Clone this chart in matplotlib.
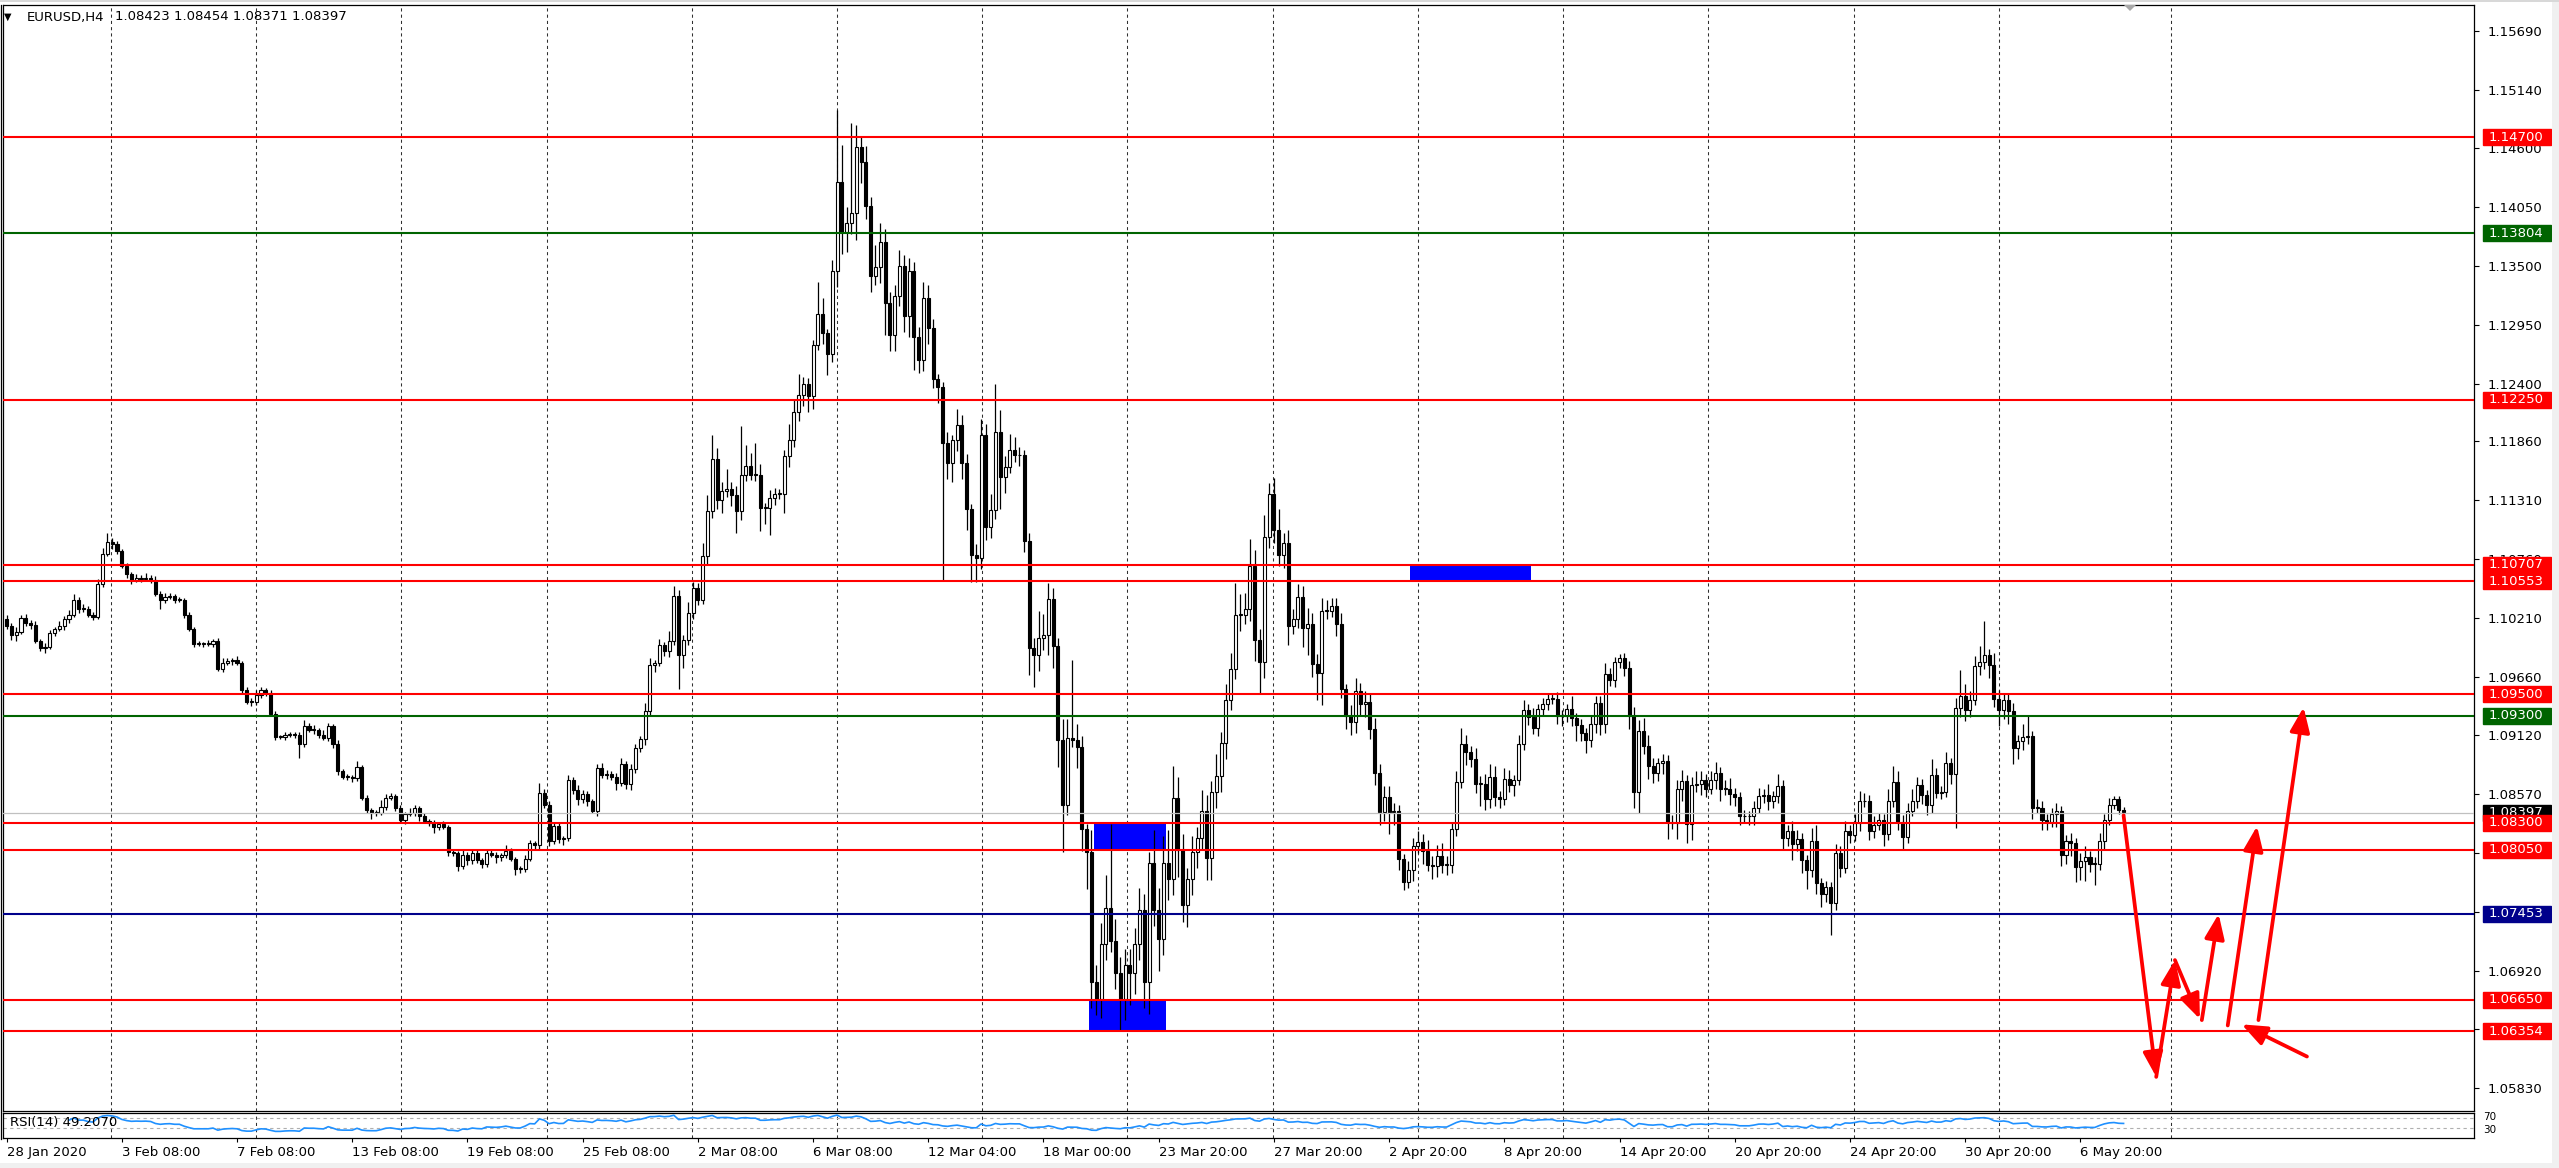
import numpy as np
import pandas as pd
import matplotlib
matplotlib.use("Agg")
import matplotlib.pyplot as plt
from matplotlib.patches import Rectangle, Polygon

W, H = 2559, 1168

# EURUSD H4 candles, prices in units of 0.0001 (open = previous close)
first_open = 11020
closes = [
    11014, 11005, 11008, 11021, 11017, 11015, 11000, 10993, 10994, 11007,
    11011, 11014, 11020, 11024, 11038, 11030, 11030, 11024, 11022, 11053,
    11081, 11092, 11090, 11084, 11070, 11062, 11057, 11059, 11058, 11059,
    11057, 11044, 11038, 11041, 11042, 11038, 11038, 11024, 11011, 10997,
    10997, 10997, 10997, 11000, 10974, 10979, 10981, 10982, 10979, 10954,
    10943, 10943, 10949, 10954, 10951, 10932, 10910, 10910, 10912, 10913,
    10912, 10904, 10920, 10917, 10917, 10912, 10909, 10920, 10904, 10878,
    10873, 10873, 10872, 10882, 10853, 10842, 10839, 10839, 10845, 10853,
    10855, 10844, 10833, 10838, 10839, 10844, 10836, 10832, 10830, 10826,
    10829, 10826, 10803, 10802, 10790, 10800, 10795, 10802, 10795, 10792,
    10802, 10800, 10798, 10800, 10804, 10796, 10787, 10787, 10796, 10811,
    10809, 10858, 10847, 10813, 10827, 10815, 10816, 10870, 10861, 10852,
    10857, 10850, 10841, 10881, 10875, 10876, 10873, 10867, 10885, 10866,
    10880, 10900, 10908, 10934, 10977, 10979, 10996, 10990, 11000, 11042,
    10987, 11001, 11026, 11049, 11038, 11079, 11121, 11170, 11131, 11140,
    11142, 11136, 11121, 11155, 11163, 11155, 11155, 11124, 11124, 11133,
    11137, 11137, 11172, 11187, 11213, 11229, 11240, 11228, 11276, 11305,
    11287, 11268, 11345, 11428, 11381, 11390, 11399, 11461, 11447, 11406,
    11340, 11349, 11372, 11315, 11285, 11322, 11350, 11303, 11345, 11283,
    11262, 11320, 11292, 11244, 11237, 11185, 11166, 11187, 11201, 11166,
    11123, 11080, 11077, 11192, 11106, 11122, 11195, 11153, 11162, 11178,
    11173, 11173, 11093, 10993, 10987, 11003, 11005, 11039, 10995, 10907,
    10847, 10909, 10907, 10901, 10824, 10803, 10682, 10666, 10717, 10751,
    10720, 10690, 10666, 10697, 10690, 10717, 10749, 10682, 10793, 10749,
    10722, 10793, 10778, 10853, 10805, 10753, 10778, 10803, 10816, 10841,
    10797, 10859, 10874, 10905, 10945, 10974, 11024, 11024, 11030, 11070,
    11001, 10980, 11097, 11137, 11103, 11080, 11091, 11014, 11020, 11041,
    11012, 11016, 10978, 10970, 11028, 11028, 11032, 11016, 10955, 10930,
    10924, 10953, 10941, 10943, 10918, 10877, 10840, 10854, 10840, 10841,
    10796, 10775, 10786, 10808, 10812, 10804, 10791, 10790, 10799, 10791,
    10791, 10824, 10868, 10904, 10896, 10890, 10866, 10866, 10852, 10873,
    10854, 10852, 10871, 10865, 10870, 10904, 10935, 10929, 10919, 10936,
    10941, 10946, 10946, 10930, 10930, 10936, 10928, 10921, 10914, 10907,
    10922, 10942, 10922, 10969, 10963, 10980, 10984, 10975, 10930, 10859,
    10916, 10902, 10883, 10877, 10886, 10888, 10831, 10830, 10862, 10869,
    10829, 10865, 10866, 10870, 10862, 10870, 10877, 10862, 10862, 10857,
    10854, 10836, 10836, 10836, 10844, 10855, 10856, 10850, 10855, 10864,
    10816, 10822, 10810, 10815, 10795, 10786, 10813, 10774, 10764, 10770,
    10755, 10802, 10788, 10822, 10819, 10830, 10850, 10850, 10822, 10828,
    10833, 10820, 10850, 10868, 10831, 10817, 10841, 10850, 10865, 10856,
    10847, 10875, 10858, 10859, 10886, 10876, 10937, 10948, 10935, 10945,
    10976, 10980, 10987, 10977, 10946, 10935, 10945, 10934, 10900, 10906,
    10910, 10911, 10844, 10844, 10833, 10831, 10838, 10841, 10800, 10813,
    10811, 10789, 10794, 10798, 10792, 10792, 10813, 10833, 10847, 10852,
    10842, 10840,
]
# wick lengths above / below the body, same units
upper_wick = [
    4, 3, 5, 3, 4, 2, 3, 2, 4, 3,   2, 4, 3, 5, 6, 3, 4, 2, 3, 5,
    6, 9, 4, 3, 2, 3, 2, 3, 2, 4,   2, 3, 2, 4, 3, 2, 3, 2, 3, 2,
    3, 2, 4, 2, 3, 5, 3, 2, 4, 2,   3, 4, 5, 3, 2, 3, 2, 2, 3, 2,
    2, 3, 6, 3, 4, 2, 5, 3, 2, 3,   2, 3, 2, 6, 2, 3, 2, 3, 6, 4,
    3, 2, 3, 2, 5, 3, 2, 3, 2, 3,   2, 3, 2, 3, 2, 5, 3, 4, 3, 2,
    3, 4, 3, 2, 5, 3, 2, 3, 4, 3,   2, 9, 4, 3, 4, 3, 2, 5, 3, 4,
    4, 3, 2, 4, 5, 3, 2, 4, 6, 3,   5, 4, 3, 8, 7, 3, 6, 3, 9, 9,
    5, 4, 10, 6, 5, 12, 15, 22, 10, 8,   18, 6, 8, 45, 20, 12, 30, 10, 5, 8,
    6, 5, 6, 15, 12, 20, 6, 5, 5, 30,   15, 4, 10, 67, 35, 15, 84, 20, 10, 15,
    8, 20, 18, 12, 10, 10, 15, 10, 12, 8,   10, 15, 12, 8, 5, 4, 10, 5, 15, 10,
    8, 5, 10, 15, 10, 15, 45, 20, 10, 15,   12, 8, 5, 8, 10, 25, 20, 15, 10, 8,
    20, 18, 73, 15, 10, 5, 20, 15, 20, 30,   78, 20, 15, 15, 15, 15, 20, 15, 10, 30,
    20, 25, 30, 30, 20, 15, 10, 15, 10, 20,   15, 10, 20, 10, 15, 15, 30, 20, 15, 25,
    15, 10, 20, 10, 15, 20, 10, 12, 10, 12,   10, 15, 10, 10, 12, 10, 8, 8, 10, 5,
    10, 12, 8, 10, 8, 10, 8, 10, 10, 8,   6, 5, 8, 8, 10, 8, 10, 8, 10, 12,
    8, 6, 10, 15, 8, 6, 10, 8, 10, 12,   10, 6, 10, 8, 5, 8, 10, 6, 8, 5,
    6, 5, 4, 6, 5, 5, 12, 5, 6, 5,   8, 6, 6, 10, 6, 5, 4, 5, 6, 8,
    10, 12, 10, 8, 5, 6, 5, 6, 8, 10,   6, 8, 12, 8, 6, 8, 10, 5, 8, 10,
    6, 5, 6, 5, 6, 8, 6, 10, 5, 12,   6, 6, 10, 8, 6, 5, 12, 15, 5, 6,
    5, 8, 6, 10, 6, 8, 10, 8, 6, 8,   6, 5, 12, 15, 10, 6, 8, 12, 8, 6,
    5, 15, 6, 5, 10, 5, 10, 25, 12, 8,   10, 15, 31, 5, 12, 8, 6, 5, 8, 6,
    12, 20, 5, 8, 6, 5, 6, 8, 5, 6,   8, 5, 8, 10, 6, 6, 8, 5, 6, 3,
    3, 3,
]
lower_wick = [
    3, 4, 5, 2, 3, 4, 2, 3, 4, 2,   3, 2, 4, 3, 2, 4, 3, 2, 3, 2,
    3, 2, 4, 3, 2, 3, 4, 2, 3, 2,   3, 2, 8, 3, 2, 3, 2, 3, 2, 3,
    2, 3, 2, 3, 2, 3, 2, 4, 2, 3,   2, 4, 3, 2, 3, 2, 3, 2, 3, 2,
    3, 13, 3, 2, 4, 3, 2, 3, 4, 3,   2, 3, 4, 3, 2, 3, 5, 3, 2, 3,
    2, 3, 3, 4, 2, 3, 4, 2, 3, 5,   3, 2, 4, 3, 5, 3, 4, 3, 2, 4,
    3, 2, 5, 4, 3, 2, 6, 4, 3, 2,   3, 4, 3, 5, 3, 4, 6, 3, 4, 5,
    3, 4, 2, 5, 3, 4, 3, 6, 3, 4,   5, 3, 4, 5, 4, 6, 3, 4, 5, 4,
    32, 12, 5, 6, 5, 4, 8, 6, 8, 12,   6, 10, 20, 8, 6, 5, 6, 22, 15, 25,
    6, 5, 18, 10, 6, 8, 10, 15, 12, 5,   10, 20, 8, 15, 20, 18, 10, 25, 20, 12,
    15, 8, 15, 30, 15, 15, 10, 15, 20, 30,   12, 10, 15, 8, 15, 129, 15, 18, 10, 15,
    20, 25, 22, 10, 12, 10, 8, 30, 15, 5,   6, 10, 10, 25, 30, 15, 12, 18, 20, 25,
    44, 10, 6, 20, 20, 35, 25, 15, 18, 15,   10, 15, 30, 20, 30, 20, 15, 25, 30, 15,
    30, 15, 20, 15, 25, 15, 20, 15, 15, 10,   20, 20, 15, 15, 15, 10, 10, 15, 8, 12,
    20, 30, 15, 10, 12, 10, 12, 18, 8, 8,   18, 25, 12, 25, 30, 8, 6, 12, 8, 12,
    12, 10, 10, 12, 10, 12, 12, 8, 20, 12,   10, 8, 6, 10, 6, 12, 6, 12, 10, 8,
    10, 8, 6, 5, 12, 8, 8, 20, 10, 8,   8, 8, 5, 6, 10, 5, 6, 8, 6, 8,
    5, 6, 5, 8, 10, 6, 8, 15, 8, 12,   6, 8, 10, 8, 5, 6, 5, 8, 12, 15,
    20, 8, 12, 10, 8, 10, 16, 6, 15, 12,   18, 15, 6, 10, 8, 5, 8, 12, 6, 10,
    8, 8, 6, 8, 8, 5, 6, 8, 6, 6,   10, 8, 15, 6, 12, 18, 6, 10, 12, 8,
    30, 6, 8, 5, 8, 6, 8, 5, 8, 6,   5, 12, 6, 5, 8, 12, 6, 5, 6, 8,
    10, 8, 5, 6, 5, 10, 51, 8, 10, 6,   5, 8, 6, 12, 8, 15, 8, 12, 15, 10,
    8, 6, 10, 5, 10, 8, 5, 12, 10, 8,   12, 14, 12, 18, 8, 20, 6, 8, 5, 4,
    4, 3,
]
assert len(closes) == len(upper_wick) == len(lower_wick), (len(closes), len(upper_wick), len(lower_wick))

time_labels = ["28 Jan 2020", "3 Feb 08:00", "7 Feb 08:00", "13 Feb 08:00", "19 Feb 08:00",
               "25 Feb 08:00", "2 Mar 08:00", "6 Mar 08:00", "12 Mar 04:00", "18 Mar 00:00",
               "23 Mar 20:00", "27 Mar 20:00", "2 Apr 20:00", "8 Apr 20:00", "14 Apr 20:00",
               "20 Apr 20:00", "24 Apr 20:00", "30 Apr 20:00", "6 May 20:00"]
bars_per_label = 24

price_ticks = [1.15690, 1.15140, 1.14600, 1.14050, 1.13500, 1.12950, 1.12400, 1.11860,
               1.11310, 1.10760, 1.10210, 1.09660, 1.09120, 1.08570, 1.08020, 1.07470,
               1.06920, 1.06380, 1.05830]

levels = [1.14700, 1.13804, 1.12250, 1.10707, 1.10553, 1.09500, 1.09300,
          1.08300, 1.08050, 1.07453, 1.06650, 1.06354]
level_colors = ["#FF0000", "#006400", "#FF0000", "#FF0000", "#FF0000", "#FF0000", "#006400",
                "#FF0000", "#FF0000", "#00008B", "#FF0000", "#FF0000"]

last_ohlc = [1.08423, 1.08454, 1.08371, 1.08397]
rsi_value_text = "49.2070"
rsi_levels = [70, 30]

# blue zones: bar index from/to, price low/high
zone_x0 = [226.5, 225.5, 292.3]
zone_x1 = [241.5, 241.5, 317.5]
zone_lo = [1.08050, 1.06354, 1.10553]
zone_hi = [1.08300, 1.06650, 1.10707]

# projected path arrows: (from bar, from price, to bar, to price)
arrows = [
    (441.0, 1.0837, 447.8, 1.0593),
    (447.8, 1.0593, 451.7, 1.0702),
    (451.7, 1.0702, 456.9, 1.0647),
    (457.3, 1.0646, 460.8, 1.0745),
    (462.7, 1.0641, 468.8, 1.0827),
    (469.1, 1.0646, 478.5, 1.0938),
    (479.2, 1.0612, 465.6, 1.0642),
]


def px_rect(left, top, right, bottom):
    return [left / W, 1 - bottom / H, (right - left) / W, (bottom - top) / H]


fig = plt.figure(figsize=(W / 100, H / 100), dpi=100, facecolor="white")
ax = fig.add_axes(px_rect(3, 5, 2474, 1111))
ax_rsi = fig.add_axes(px_rect(3, 1113, 2474, 1138))

c = np.array(closes) / 1e4
o = np.r_[first_open, closes[:-1]] / 1e4
hi = np.maximum(o, c) + np.array(upper_wick) / 1e4
lo = np.minimum(o, c) - np.array(lower_wick) / 1e4
x = np.arange(len(c))
up = c >= o
body = np.maximum(np.abs(c - o), 0.00008)
bottom = np.minimum(o, c)

xmin, xmax = -0.75, 514.0
ytop = 1.159327
ybot = ytop - 1106 / 10716

grid_x = [21.75 + 30.25 * k for k in range(14)] + [450.9]
for a in (ax, ax_rsi):
    for gx in grid_x:
        a.axvline(gx, color="#303030", lw=0.75, ls=(0, (3, 3)), zorder=0)
    for s in a.spines.values():
        s.set_linewidth(0.9)
        s.set_color("black")
    a.set_xlim(xmin, xmax)

# zones behind the candles
for x0, x1, zl, zh in zip(zone_x0, zone_x1, zone_lo, zone_hi):
    ax.add_patch(Rectangle((x0, zl), x1 - x0, zh - zl, facecolor="#0000FF", edgecolor="none", zorder=2))

ax.vlines(x, lo, hi, color="black", lw=0.9, zorder=3)
ax.bar(x[up], body[up], bottom=bottom[up], width=0.64, color="white", edgecolor="black", linewidth=0.8, zorder=4)
ax.bar(x[~up], body[~up], bottom=bottom[~up], width=0.64, color="black", edgecolor="black", linewidth=0.8, zorder=4)

# current price line
ax.axhline(last_ohlc[3], color="#C0C0C0", lw=0.9, zorder=4.5)
for p, col in zip(levels, level_colors):
    ax.axhline(p, color=col, lw=1.5, zorder=5)

for x0, y0, x1, y1 in arrows:
    ax.annotate("", xy=(x1, y1), xytext=(x0, y0), annotation_clip=False, zorder=6,
                arrowprops=dict(arrowstyle="-|>,head_length=0.75,head_width=0.3", lw=2.7,
                                color="#FF0000", shrinkA=0, shrinkB=0, mutation_scale=20))

ax.set_ylim(ybot, ytop)
ax.set_xticks([])
ax.yaxis.tick_right()
ax.set_yticks(price_ticks)
ax.set_yticklabels([f"{t:.5f}" for t in price_ticks])
ax.tick_params(axis="y", direction="out", length=3.6, width=0.8, pad=6.5, labelsize=9.5, colors="black")

# price boxes on the right scale
box_l = (2483 - 3) / 2471
box_w = (2551 - 2483) / 2471
txt_x = (2489 - 3) / 2471
box_h = 16 / 10716
ytr = ax.get_yaxis_transform()
ax.add_patch(Rectangle((box_l, last_ohlc[3] - box_h / 2), box_w, box_h, transform=ytr,
                       facecolor="black", edgecolor="black", clip_on=False, zorder=10))
ax.text(txt_x, last_ohlc[3], f"{last_ohlc[3]:.5f}", transform=ytr, color="white", fontsize=9.5,
        va="center", ha="left", clip_on=False, zorder=11)
for p, col in zip(levels, level_colors):
    ax.add_patch(Rectangle((box_l, p - box_h / 2), box_w, box_h, transform=ytr,
                           facecolor=col, edgecolor=col, clip_on=False, zorder=12))
    ax.text(txt_x, p, f"{p:.5f}", transform=ytr, color="white", fontsize=9.5,
            va="center", ha="left", clip_on=False, zorder=13)

# RSI(14), Wilder smoothing
delta = np.diff(c, prepend=c[0])
gain = pd.Series(np.clip(delta, 0, None)).ewm(alpha=1 / 14, adjust=False, min_periods=14).mean()
loss = pd.Series(np.clip(-delta, 0, None)).ewm(alpha=1 / 14, adjust=False, min_periods=14).mean()
rsi = 100 - 100 / (1 + gain / loss)
ax_rsi.plot(x, rsi, color="#1E90FF", lw=1.2, zorder=3)
for lvl in rsi_levels:
    ax_rsi.axhline(lvl, color="#B0B0B0", lw=0.8, ls=(0, (3, 3)), zorder=1)
ax_rsi.set_ylim(-8, 90)
ax_rsi.set_yticks([])
ax_rsi.text(0.0028, 0.62, f"RSI(14) {rsi_value_text}", transform=ax_rsi.transAxes,
            fontsize=9.5, va="center", ha="left", zorder=5)
rtr = ax_rsi.get_yaxis_transform()
ax_rsi.text(box_l, rsi_levels[0] + 6, str(rsi_levels[0]), transform=rtr, fontsize=7.5,
            va="center", ha="left", clip_on=False)
ax_rsi.text(box_l, rsi_levels[1] - 6, str(rsi_levels[1]), transform=rtr, fontsize=7.5,
            va="center", ha="left", clip_on=False)

tick_pos = [i * bars_per_label for i in range(len(time_labels))]
ax_rsi.set_xticks(tick_pos)
ax_rsi.set_xticklabels(time_labels)
ax_rsi.tick_params(axis="x", direction="out", length=3, width=0.8, pad=3, labelsize=9.5)
for lab in ax_rsi.get_xticklabels():
    lab.set_ha("left")

# header
ty = 1 - 17 / H
fig.text(4 / W, ty, "\u25BC", fontsize=7, va="center", ha="left")
fig.text(27 / W, ty, "EURUSD,H4", fontsize=9.5, va="center", ha="left")
fig.text(115 / W, ty, " ".join(f"{v:.5f}" for v in last_ohlc), fontsize=9.5, va="center", ha="left")

# window frame bits
fig.patches.append(Rectangle((2552 / W, 0), 7 / W, 1, transform=fig.transFigure,
                             facecolor="#F0F0F0", edgecolor="none"))
fig.patches.append(Rectangle((0, 0), 1, 5 / H, transform=fig.transFigure,
                             facecolor="#F0F0F0", edgecolor="none"))
fig.patches.append(Rectangle((0, 1 - 2 / H), 1, 2 / H, transform=fig.transFigure,
                             facecolor="#D8D8D8", edgecolor="none"))
fig.patches.append(Polygon([(2124 / W, 1 - 5 / H), (2136 / W, 1 - 5 / H), (2130 / W, 1 - 11 / H)],
                           closed=True, transform=fig.transFigure, facecolor="#A8A8A8", edgecolor="none"))
fig.lines.append(plt.Line2D([0.6 / W, 0.6 / W], [1 - 1139 / H, 1 - 5 / H], transform=fig.transFigure,
                            color="black", lw=0.9))

fig.savefig("out.png", dpi=100, facecolor="white")
